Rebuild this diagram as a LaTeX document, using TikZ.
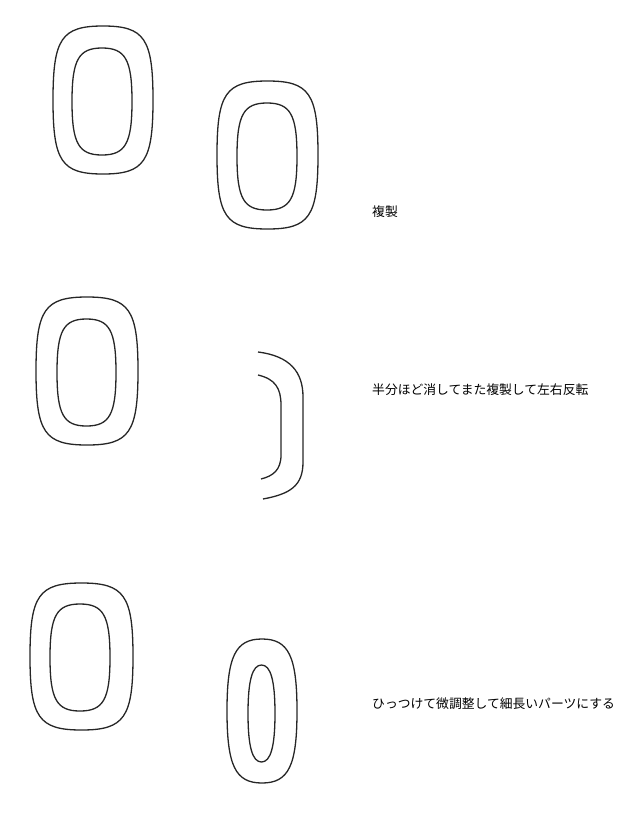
\documentclass[tikz,border=0pt]{standalone}
\usepackage{fontspec}
\newfontfamily\jpfont{Noto Sans CJK JP}
\tikzset{
  stroke/.style={draw=black!85, line width=1.3pt, line join=round},
  caption/.style={anchor=west, inner sep=0pt, font=\jpfont\fontsize{12.8pt}{15pt}\selectfont}
}
% cx cy halfwidth halfheight k
\newcommand\ringpath[5]{%
  \draw[stroke] ({#1},{#2-#4}) .. controls ({#1+#5*#3},{#2-#4}) and ({#1+#3},{#2-#5*#4}) .. ({#1+#3},{#2})
    .. controls ({#1+#3},{#2+#5*#4}) and ({#1+#5*#3},{#2+#4}) .. ({#1},{#2+#4})
    .. controls ({#1-#5*#3},{#2+#4}) and ({#1-#3},{#2+#5*#4}) .. ({#1-#3},{#2})
    .. controls ({#1-#3},{#2-#5*#4}) and ({#1-#5*#3},{#2-#4}) .. ({#1},{#2-#4}) -- cycle;}
\begin{document}
\begin{tikzpicture}[x=1pt,y=-1pt]
\useasboundingbox (0,0) rectangle (640,823);
% row 1
\ringpath{103}{100}{50}{74}{0.83}
\ringpath{102}{101.5}{30}{53.5}{0.78}
\ringpath{267.5}{155}{50.5}{74}{0.83}
\ringpath{267}{156.5}{30}{53.5}{0.78}
\node[caption] (t1) at (372,212) {複製};
% row 2
\ringpath{87}{371}{51}{74}{0.83}
\ringpath{86.5}{372.5}{29.5}{53.5}{0.78}
\draw[stroke] (258,352) .. controls (290,356) and (303,372) .. (303,397) -- (303,462)
  .. controls (303,486) and (290,494) .. (263,499);
\draw[stroke] (258,375) .. controls (275,379) and (281,388) .. (281,405) -- (281,455)
  .. controls (281,470) and (273,476) .. (261,479);
\node[caption] (t2) at (372,390) {半分ほど消してまた複製して左右反転};
% row 3
\ringpath{81.5}{656.5}{51.5}{73.5}{0.83}
\ringpath{80}{657.5}{30}{53.5}{0.78}
\ringpath{262}{711}{35}{72}{0.76}
\ringpath{261.5}{713.5}{13.5}{48.5}{0.68}
\node[caption] (t3) at (372,704) {ひっつけて微調整して細長いパーツにする};
\end{tikzpicture}
\end{document}
